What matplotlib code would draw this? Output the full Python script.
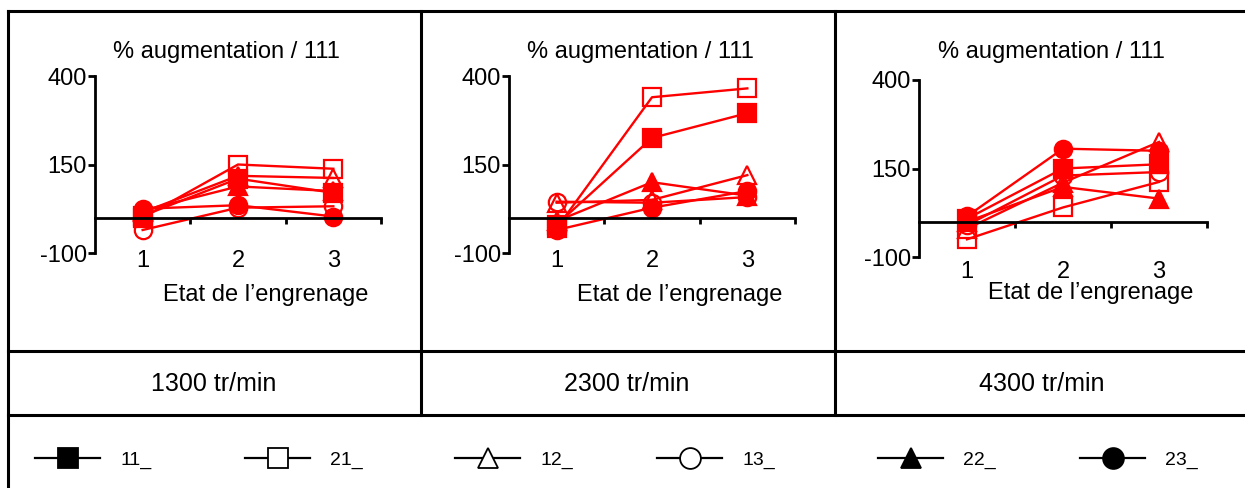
import numpy as np
import matplotlib.pyplot as plt
from matplotlib.lines import Line2D

plt.rcParams['font.family'] = ['Liberation Sans', 'DejaVu Sans']

# donnees (% augmentation / 111)
etats = [1, 2, 3]
vitesses = ["1300 tr/min", "2300 tr/min", "4300 tr/min"]
series = ["11_", "21_", "12_", "13_", "22_", "23_"]

v1300 = {
    "11_": [5, 110, 70],
    "21_": [0, 150, 138],
    "12_": [15, 118, 112],
    "13_": [-35, 28, 32],
    "22_": [20, 88, 75],
    "23_": [25, 35, 3],
}
v2300 = {
    "11_": [-20, 225, 295],
    "21_": [-30, 340, 365],
    "12_": [42, 50, 120],
    "13_": [45, 42, 58],
    "22_": [-10, 100, 62],
    "23_": [-35, 28, 75],
}
v4300 = {
    "11_": [8, 150, 162],
    "21_": [-50, 40, 112],
    "12_": [-20, 110, 225],
    "13_": [-10, 130, 140],
    "22_": [0, 98, 65],
    "23_": [15, 206, 200],
}
donnees = [v1300, v2300, v4300]

# style des marqueurs
styles = {
    "11_": dict(marker="s", fill=True),
    "21_": dict(marker="s", fill=False),
    "12_": dict(marker="^", fill=False),
    "13_": dict(marker="o", fill=False),
    "22_": dict(marker="^", fill=True),
    "23_": dict(marker="o", fill=True),
}

W, H = 1245, 488
fig = plt.figure(figsize=(W / 100, H / 100), dpi=100)

def px_axes(x0, x1, ytop, ybot):
    return fig.add_axes([x0 / W, 1 - ybot / H, (x1 - x0) / W, (ybot - ytop) / H])

# positions des axes (pixels): axe y, fin axe x, y de 400, y de -100
panneaux = [(95, 381, 76, 253), (509, 795, 76, 253), (919, 1207, 80, 257)]
lab_y = [-122, -122, -142]
xlab_y = [-218, -218, -202]

for k, (x0, x1, yt, yb) in enumerate(panneaux):
    ax = px_axes(x0, x1, yt, yb)
    ax.set_xlim(0.5, 3.5)
    ax.set_ylim(-100, 400)
    ax.patch.set_alpha(0)
    for s in ["top", "right"]:
        ax.spines[s].set_visible(False)
    ax.spines["bottom"].set_position(("data", 0))
    ax.spines["left"].set_linewidth(2)
    ax.spines["bottom"].set_linewidth(2)
    ax.set_yticks([-100, 150, 400])
    ax.set_yticklabels(["-100", "150", "400"], fontsize=17)
    ax.set_xticks([1.5, 2.5, 3.5])
    ax.set_xticklabels([])
    ax.tick_params(axis="y", length=5, width=2, pad=1)
    ax.tick_params(axis="x", length=4, width=2)
    for nom in series:
        st = styles[nom]
        ax.plot(etats, donnees[k][nom], color="#ff0000", lw=1.7,
                marker=st["marker"], markersize=12.5,
                mfc="#ff0000" if st["fill"] else "none",
                mec="#ff0000", mew=1.6, clip_on=False)
    for e in etats:
        ax.text(e, lab_y[k], str(e), ha="center", va="center", fontsize=17)
    ax.text(2.29, xlab_y[k], "Etat de l\u2019engrenage", ha="center", va="center",
            fontsize=17)
    ax.text(1.88, 468 if k < 2 else 479, "% augmentation / 111", ha="center",
            va="center", fontsize=17)

# tableau et legende
ov = fig.add_axes([0, 0, 1, 1], zorder=-1)
ov.set_xlim(0, W)
ov.set_ylim(H, 0)
ov.axis("off")
lw_tab = 2.2
ov.plot([8, 8], [11, H], color="k", lw=lw_tab)
for y in [11, 351, 415]:
    ov.plot([8, W], [y, y], color="k", lw=lw_tab)
for x in [421, 835]:
    ov.plot([x, x], [11, 415], color="k", lw=lw_tab)

for cx, txt in zip([214, 627, 1042], vitesses):
    ov.text(cx, 384, txt, ha="center", va="center", fontsize=18)

leg_x = [35, 245, 455, 657, 878, 1080]
for x, nom in zip(leg_x, series):
    st = styles[nom]
    ov.add_line(Line2D([x, x + 65], [458, 458], color="k", lw=1.6))
    ov.add_line(Line2D([x + 32.5], [458], marker=st["marker"], markersize=15,
                       mfc="k" if st["fill"] else "white", mec="k", mew=1.3))
    ov.text(x + 85, 460, nom, ha="left", va="center", fontsize=14)

fig.savefig("out.png", dpi=100)
